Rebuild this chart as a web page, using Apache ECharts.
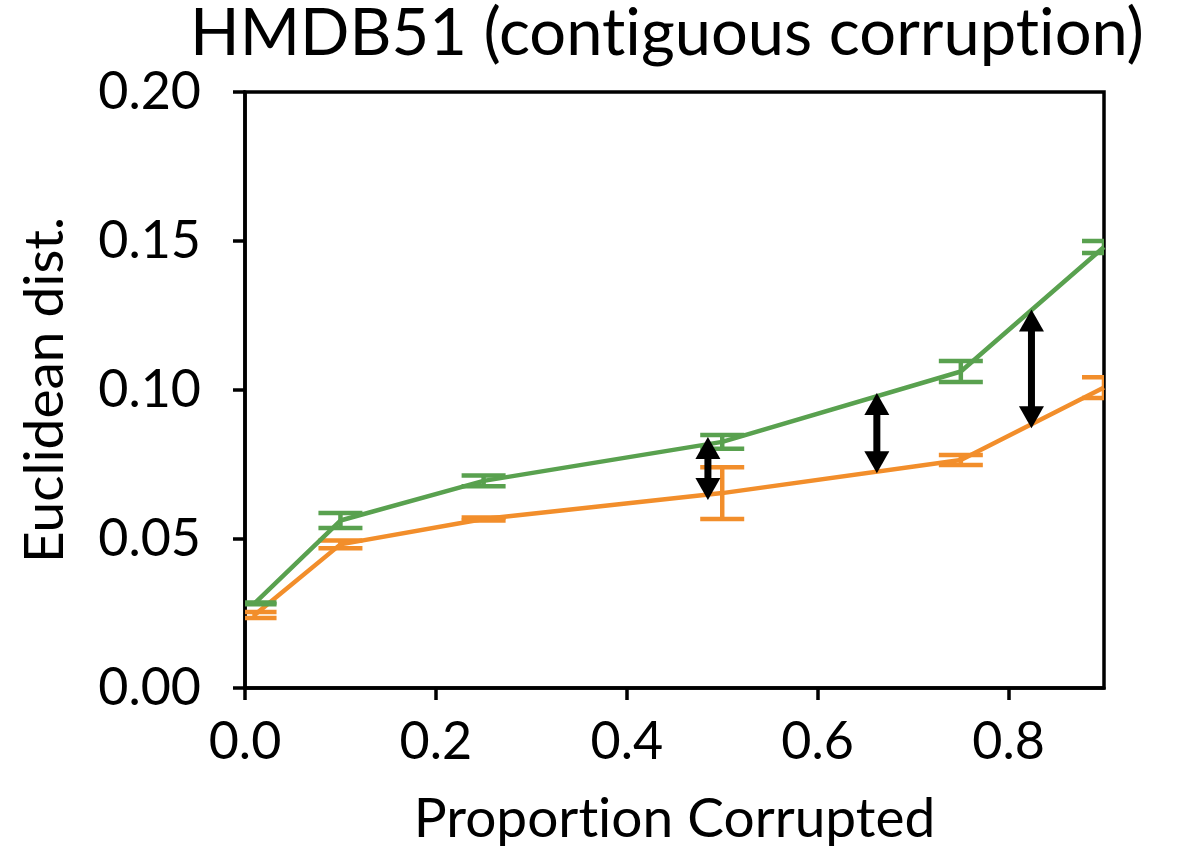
<!DOCTYPE html>
<html>
<head>
<meta charset="utf-8">
<title>HMDB51 (contiguous corruption)</title>
<script src="https://cdn.jsdelivr.net/npm/echarts@6.0.0/dist/echarts.min.js"></script>
<style>
  html, body { margin: 0; padding: 0; background: #fff; }
  #chart { width: 1191px; height: 851px; }
</style>
</head>
<body>
<div id="chart"></div>
<script>
// values
var proportions = [0.01, 0.1, 0.25, 0.5, 0.75, 0.9];
var greenMean = [0.0284, 0.0562, 0.0695, 0.0826, 0.1062, 0.148];
var greenErr = [0.0003, 0.0025, 0.0018, 0.0023, 0.0035, 0.002];
var orangeMean = [0.0245, 0.0482, 0.0567, 0.0654, 0.0765, 0.1008];
var orangeErr = [0.001, 0.0013, 0.0005, 0.0087, 0.0017, 0.0035];
// double arrows showing the gap between the two curves
var arrowX = [0.485, 0.662, 0.824];
var arrowTop = [0.0842, 0.099, 0.127];
var arrowBottom = [0.0631, 0.0721, 0.0872];
var xTicks = [0, 0.2, 0.4, 0.6, 0.8];

var GREEN = '#59a14f';
var ORANGE = '#f28e2b';
var FONT = 'Lato';

// Lato draws "ti" as a ligature; splitting the text into rich segments
// between the t and the i keeps the two letters apart like the reference
function noLig(s) {
    return s.split(/(?<=t)(?=i)/).map(function (p) { return '{s|' + p + '}'; }).join('');
}

function pairs(xs, ys) {
    return xs.map(function (x, i) { return [x, ys[i]]; });
}
function triples(xs, ys, es) {
    return xs.map(function (x, i) { return [x, ys[i], es[i]]; });
}

function errorBar(color) {
    return function (params, api) {
        var x = api.value(0), m = api.value(1), e = api.value(2);
        var hi = api.coord([x, m + e]);
        var lo = api.coord([x, m - e]);
        var half = 22;
        var style = { stroke: color, lineWidth: 4.5, fill: null };
        return {
            type: 'group',
            children: [
                { type: 'line', shape: { x1: hi[0], y1: hi[1], x2: lo[0], y2: lo[1] }, style: style },
                { type: 'line', shape: { x1: hi[0] - half, y1: hi[1], x2: hi[0] + half, y2: hi[1] }, style: style },
                { type: 'line', shape: { x1: lo[0] - half, y1: lo[1], x2: lo[0] + half, y2: lo[1] }, style: style }
            ]
        };
    };
}

function doubleArrow(params, api) {
    var x = api.value(0);
    var t = api.coord([x, api.value(1)]);
    var b = api.coord([x, api.value(2)]);
    var hw = 12.5, hl = 22, sw = 3.5;
    return {
        type: 'group',
        children: [
            { type: 'rect', shape: { x: t[0] - sw, y: t[1] + hl - 2, width: sw * 2, height: b[1] - t[1] - 2 * hl + 4 }, style: { fill: '#000' } },
            { type: 'polygon', shape: { points: [[t[0], t[1]], [t[0] - hw, t[1] + hl], [t[0] + hw, t[1] + hl]] }, style: { fill: '#000' } },
            { type: 'polygon', shape: { points: [[b[0], b[1]], [b[0] - hw, b[1] - hl], [b[0] + hw, b[1] - hl]] }, style: { fill: '#000' } }
        ]
    };
}

var titleStyle = { fontFamily: FONT, fontSize: 65, fontWeight: 'normal', color: '#000' };
var nameStyle = { fontFamily: FONT, fontSize: 55, color: '#000' };

var myChart = echarts.init(document.getElementById('chart'));
myChart.setOption({
    animation: false,
    backgroundColor: '#fff',
    title: {
        text: noLig('HMDB51 (contiguous corruption)'),
        left: 662,
        textAlign: 'center',
        top: -3,
        textStyle: Object.assign({ rich: { s: titleStyle } }, titleStyle)
    },
    grid: {
        left: 245, right: 87, top: 92, bottom: 163,
        show: true, borderColor: '#000', borderWidth: 3.5,
        outerBoundsMode: 'none'
    },
    xAxis: {
        type: 'value',
        min: 0, max: 0.9,
        name: noLig('Proportion Corrupted'),
        nameLocation: 'middle',
        nameGap: 104,
        nameTextStyle: Object.assign({ rich: { s: nameStyle } }, nameStyle),
        axisLine: { show: true, lineStyle: { color: '#000', width: 3.5 } },
        axisTick: { show: true, length: 12, customValues: xTicks, lineStyle: { color: '#000', width: 3.5 } },
        axisLabel: {
            customValues: xTicks, margin: 28,
            fontFamily: FONT, fontSize: 52, color: '#000',
            formatter: function (v) { return v.toFixed(1); }
        },
        splitLine: { show: false }
    },
    yAxis: {
        type: 'value',
        min: 0, max: 0.2, interval: 0.05,
        name: 'Euclidean dist.',
        nameLocation: 'middle',
        nameGap: 172,
        nameTextStyle: nameStyle,
        axisLine: { show: true, lineStyle: { color: '#000', width: 3.5 } },
        axisTick: { show: true, length: 12, lineStyle: { color: '#000', width: 3.5 } },
        axisLabel: {
            margin: 44,
            fontFamily: FONT, fontSize: 52, color: '#000',
            formatter: function (v) { return v.toFixed(2); }
        },
        splitLine: { show: false }
    },
    series: [
        {
            type: 'line', data: pairs(proportions, orangeMean),
            symbol: 'none', lineStyle: { color: ORANGE, width: 4.5 }, z: 2
        },
        {
            type: 'custom', data: triples(proportions, orangeMean, orangeErr),
            renderItem: errorBar(ORANGE), clip: true, z: 2
        },
        {
            type: 'line', data: pairs(proportions, greenMean),
            symbol: 'none', lineStyle: { color: GREEN, width: 4.5 }, z: 3
        },
        {
            type: 'custom', data: triples(proportions, greenMean, greenErr),
            renderItem: errorBar(GREEN), clip: true, z: 3
        },
        {
            type: 'custom', data: triples(arrowX, arrowTop, arrowBottom),
            renderItem: doubleArrow, clip: true, z: 5
        }
    ]
});
</script>
</body>
</html>
